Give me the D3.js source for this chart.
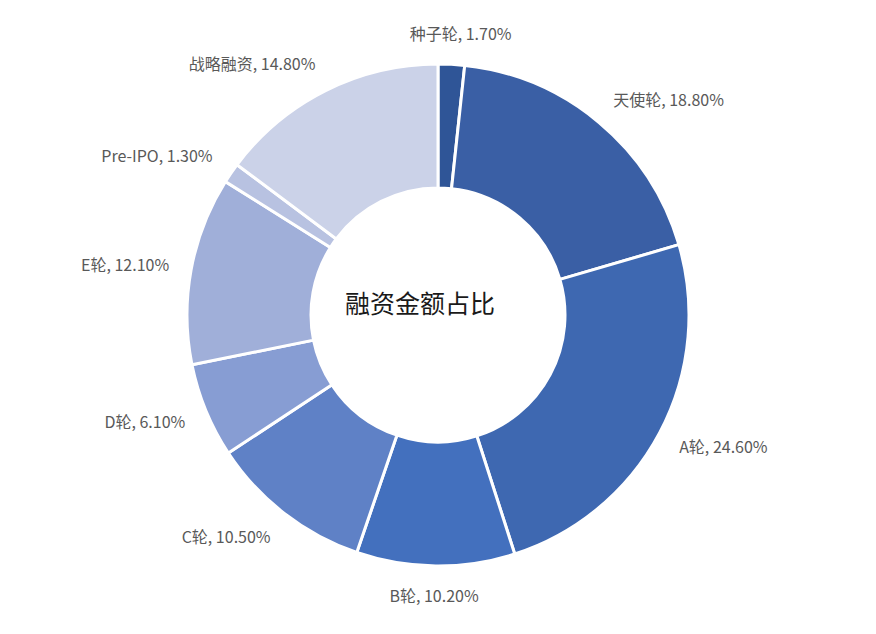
<!DOCTYPE html>
<html>
<head>
<meta charset="utf-8">
<script src="https://cdn.jsdelivr.net/npm/d3@7"></script>
<style>
  body { margin: 0; background: #fff; }
  svg { display: block; }
</style>
</head>
<body>
<svg width="876" height="634"></svg>
<script>
const categories = ["种子轮", "天使轮", "A轮", "B轮", "C轮", "D轮", "E轮", "Pre-IPO", "战略融资"];
const values = [1.7, 18.8, 24.6, 10.2, 10.5, 6.1, 12.1, 1.3, 14.8];
const colors = ["#2f5597", "#3a5fa5", "#3e68b1", "#4370be", "#5f81c6", "#879dd3", "#a0afd9", "#b8c2e1", "#cbd2e8"];
const title = "融资金额占比";

const svg = d3.select("svg"),
    width = +svg.attr("width"),
    height = +svg.attr("height");

const cx = 438, cy = 315;
const outerR = 251, innerR = 127;
const g = svg.append("g").attr("transform", `translate(${cx},${cy})`);

const data = categories.map((c, i) => ({ name: c, value: values[i], color: colors[i] }));

const pie = d3.pie().value(d => d.value).sort(null);
const arcs = pie(data);

const arc = d3.arc().innerRadius(innerR).outerRadius(outerR);

g.selectAll(".slice")
    .data(arcs)
    .enter().append("path")
    .attr("class", "slice")
    .attr("d", arc)
    .style("fill", d => d.data.color)
    .style("stroke", "#fff")
    .style("stroke-width", "3px");

// labels: point on the mid-angle ray, box hung off to the outer side
const labelR = 273;
const labels = g.selectAll(".label")
    .data(arcs)
    .enter().append("text")
    .attr("class", "label")
    .style("font-family", "'Noto Sans CJK SC', sans-serif")
    .style("font-size", "16px")
    .style("fill", "#595959")
    .text(d => d.data.name + ", " + d.data.value.toFixed(2) + "%");

labels.each(function (d) {
    const a = (d.startAngle + d.endAngle) / 2;
    const sx = Math.sin(a), sy = -Math.cos(a);
    const w = this.getBBox().width, h = 16;
    const px = labelR * sx, py = labelR * sy;
    const side = Math.sign(sx) * Math.min(1, Math.abs(sx) * 3);
    const x = px + side * w / 2 - w / 2;
    const y = py + sy * h / 2 + 6;
    d3.select(this).attr("x", x).attr("y", y);
});

svg.append("text")
    .attr("x", 420)
    .attr("y", 304)
    .attr("dy", "0.35em")
    .style("text-anchor", "middle")
    .style("font-family", "'Noto Sans CJK SC', sans-serif")
    .style("font-size", "25px")
    .style("fill", "#1a1a1a")
    .text(title);
</script>
</body>
</html>
